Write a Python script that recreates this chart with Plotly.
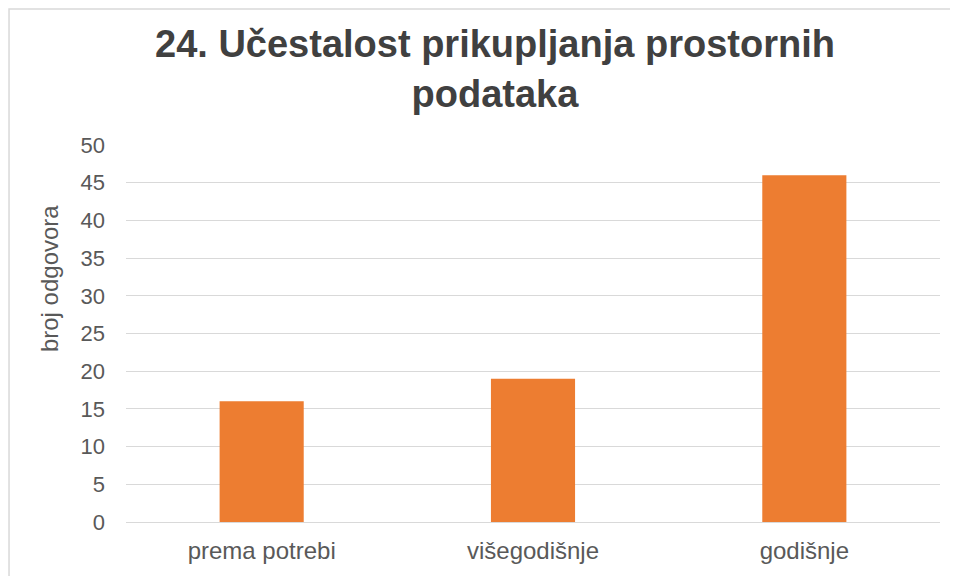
import plotly.graph_objects as go

# ── Data ────────────────────────────────────────────────────────────────
categories = ["prema potrebi", "višegodišnje", "godišnje"]
responses = [16, 19, 46]

_ORANGE = "#ED7D31"
_TEXT = "#595959"
_GRID = "#D9D9D9"

# the page body adds an 8px margin, so the figure is 16px smaller than the window
W, H = 950, 568

fig = go.Figure(
    go.Bar(
        x=categories,
        y=responses,
        marker=dict(color=_ORANGE, line=dict(width=0)),
        width=0.31,
    )
)

fig.update_layout(
    width=W,
    height=H,
    paper_bgcolor="white",
    plot_bgcolor="white",
    font=dict(family="Liberation Sans, Arial, sans-serif", size=22, color=_TEXT),
    margin=dict(l=118, r=18, t=137, b=54),
    showlegend=False,
    title=dict(
        text="<b>24. Učestalost prikupljanja prostornih<br>podataka</b>",
        x=0.5126,
        xanchor="center",
        y=0.913,
        yanchor="top",
        font=dict(size=38, color="#404040"),
    ),
    xaxis=dict(
        showgrid=False,
        showline=False,
        ticks="",
        ticklabelstandoff=12,
        tickfont=dict(size=24, color=_TEXT),
    ),
    yaxis=dict(
        range=[0, 50],
        dtick=5,
        showgrid=True,
        gridcolor=_GRID,
        gridwidth=1.3,
        zeroline=True,
        zerolinecolor=_GRID,
        zerolinewidth=1.3,
        ticks="",
        ticklabelstandoff=20,
        tickfont=dict(size=22, color=_TEXT),
    ),
)

# axis title sits above the axis middle in the original, so place it by hand
fig.add_annotation(
    text="broj odgovora",
    textangle=-90,
    xref="paper", yref="paper",
    x=-0.0946, y=0.647,
    xanchor="center", yanchor="middle",
    showarrow=False,
    font=dict(size=24, color=_TEXT),
)

# light chart-area border as in the original spreadsheet export
fig.add_shape(
    type="rect",
    xref="paper", yref="paper",
    x0=-0.1437, x1=1.05, y0=-0.2, y1=1.3607,
    line=dict(color="#D9D9D9", width=1.5),
    fillcolor="rgba(0,0,0,0)",
    layer="below",
)

fig.write_html("out.html")
